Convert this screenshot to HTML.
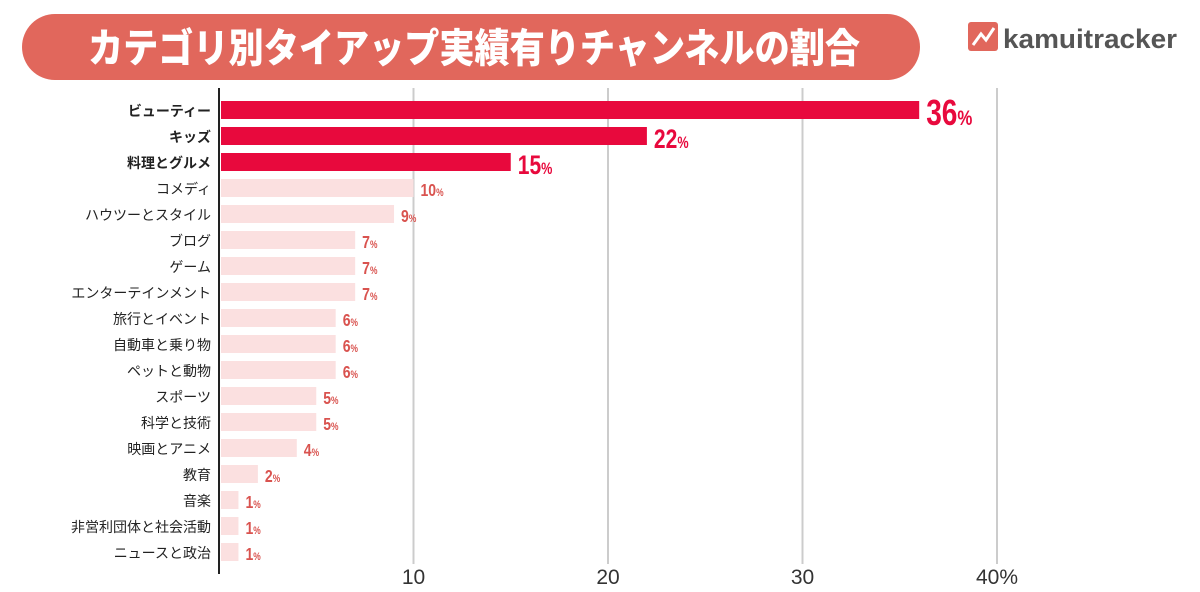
<!DOCTYPE html>
<html><head><meta charset="utf-8"><style>
body{margin:0;background:#fff;width:1200px;height:587px;overflow:hidden;font-family:"Liberation Sans","Noto Sans CJK JP",sans-serif}
</style></head><body>
<svg width="1200" height="587" xmlns="http://www.w3.org/2000/svg">
<rect x="22" y="14" width="898" height="66" rx="33" fill="#e1675c"/>
<text x="88" y="62" textLength="772" lengthAdjust="spacingAndGlyphs" fill="#fff" font-size="40" font-weight="900" font-family="'Noto Sans CJK JP',sans-serif">カテゴリ別タイアップ実績有りチャンネルの割合</text>
<g>
<rect x="968" y="22" width="30" height="29" rx="3" fill="#e1675c"/>
<polyline points="973,45 981,34 986,40 994,28" fill="none" stroke="#fff" stroke-width="3"/>
<text x="1003" y="48" font-size="27" font-weight="bold" fill="#555" textLength="174" lengthAdjust="spacingAndGlyphs">kamuitracker</text>
</g>
<g id="grid"></g><g id="bars"></g>
<line x1="219" y1="88" x2="219" y2="574" stroke="#222" stroke-width="2"/>
</svg>
<script>
const categories=["ビューティー","キッズ","料理とグルメ","コメディ","ハウツーとスタイル","ブログ","ゲーム","エンターテインメント","旅行とイベント","自動車と乗り物","ペットと動物","スポーツ","科学と技術","映画とアニメ","教育","音楽","非営利団体と社会活動","ニュースと政治"];
const values=[36,22,15,10,9,7,7,7,6,6,6,5,5,4,2,1,1,1];
const ticks=[10,20,30,40];
const ns="http://www.w3.org/2000/svg";
const x=v=>219+v*19.45;
const y=i=>101+i*26;
function mk(t,a,p){const e=document.createElementNS(ns,t);for(const k in a)e.setAttribute(k,a[k]);p.appendChild(e);return e;}
const g=document.getElementById('grid'),b=document.getElementById('bars');
ticks.forEach(t=>{
 const l=mk('line',{x1:x(t),x2:x(t),y1:88,y2:564,stroke:'#ccc','stroke-width':2},g);
 
 
 const tx=mk('text',{x:x(t),y:584,'text-anchor':'middle','font-size':21,fill:'#333'},g);
 tx.textContent=t+(t===40?'%':'');
 
 
});
categories.forEach((c,i)=>{
 const top=i<3;
 const r=mk('rect',{x:221,y:y(i),width:x(values[i])-221,height:18,fill:top?'#e8093d':'#fbe0e0'},b);
 
 
 const lb=mk('text',{x:211,y:y(i)+15,'text-anchor':'end','font-size':14,'font-weight':top?'bold':'normal',fill:'#222'},b);
 lb.textContent=c;
 
 
 const fs=i===0?36:top?27:18;
 const vx=x(values[i])+7, vy=y(i)+(i===0?24:top?21:17);
 const v=mk('text',{x:0,y:0,'font-size':fs,'font-weight':'bold',fill:top?'#e8093d':'#d9534f',transform:`translate(${vx},${vy}) scale(0.78,1)`},b);
 v.textContent=values[i];
 const p=mk('tspan',{'font-size':fs*0.6},v);p.textContent='%';
 
 
});
</script>
</body></html>
